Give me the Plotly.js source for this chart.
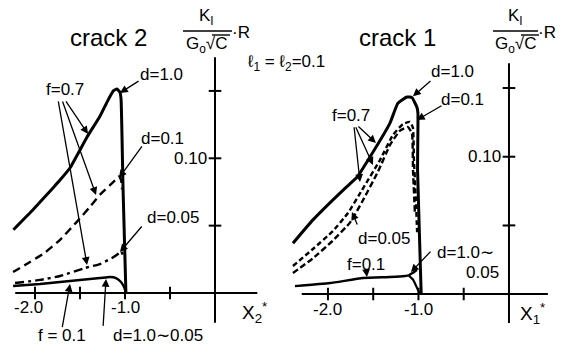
<!DOCTYPE html>
<html>
<head>
<meta charset="utf-8">
<script src="https://cdn.plot.ly/plotly-3.0.1.min.js"></script>
<style>
  html, body { margin: 0; padding: 0; background: #fff; }
  #chart { width: 562px; height: 345px; }
</style>
</head>
<body>
<div id="chart"></div>
<script>
// ---- crack 2 (left panel): normalised stress intensity K_I/(G0*sqrt(C))*R vs X2* ----
const crack2_f07_d10_x  = [-2.24, -2.02, -1.80, -1.72, -1.61, -1.42, -1.28, -1.19, -1.13, -1.09, -1.056, -1.044, -1.022, -0.99];
const crack2_f07_d10_y  = [0.047, 0.062, 0.078, 0.084, 0.093, 0.116, 0.131, 0.143, 0.150, 0.1515, 0.149, 0.144, 0.078, 0.0];
const crack2_f07_d01_x  = [-2.244, -2.056, -1.889, -1.722, -1.533, -1.389, -1.278, -1.167, -1.089, -1.067, -1.044, -1.033];
const crack2_f07_d01_y  = [0.0156, 0.023, 0.030, 0.0395, 0.053, 0.064, 0.073, 0.080, 0.085, 0.0866, 0.084, 0.077];
const crack2_f07_d005_x = [-2.222, -1.944, -1.722, -1.444, -1.278, -1.144, -1.078, -1.044, -1.022];
const crack2_f07_d005_y = [0.0074, 0.0097, 0.0126, 0.0186, 0.0215, 0.026, 0.029, 0.031, 0.028];
const crack2_f01_x      = [-2.244, -1.944, -1.611, -1.278, -1.167, -1.10, -1.044, -1.011, -0.989];
const crack2_f01_y      = [0.0052, 0.0067, 0.0089, 0.0111, 0.0119, 0.0111, 0.0082, 0.0045, 0.0];

// ---- crack 1 (right panel): same quantity vs X1* ----
const crack1_f07_d10_x  = [-2.387, -2.166, -1.812, -1.68, -1.536, -1.315, -1.227, -1.127, -1.072, -1.017, -1.006, -1.01, -0.97];
const crack1_f07_d10_y  = [0.037, 0.054, 0.077, 0.085, 0.0998, 0.1245, 0.139, 0.1435, 0.143, 0.136, 0.132, 0.090, 0.0];
const crack1_f07_d01_x  = [-2.387, -2.166, -1.945, -1.779, -1.624, -1.425, -1.282, -1.171, -1.094, -1.061, -1.050, -1.028, -1.015];
const crack1_f07_d01_y  = [0.0204, 0.0328, 0.0459, 0.059, 0.0757, 0.0976, 0.1158, 0.1238, 0.1253, 0.121, 0.0976, 0.068, 0.045];
const crack1_f07_d005_x = [-2.387, -2.166, -1.945, -1.757, -1.624, -1.448, -1.315, -1.204, -1.116, -1.072, -1.06, -1.04];
const crack1_f07_d005_y = [0.0153, 0.026, 0.039, 0.052, 0.067, 0.089, 0.1085, 0.119, 0.1216, 0.117, 0.09, 0.06];
const crack1_f01_x      = [-2.365, -1.978, -1.613, -1.315, -1.149, -1.11];
const crack1_f01_y      = [0.0058, 0.008, 0.0117, 0.0124, 0.0131, 0.0136];
const crack1_f01_upper_x = [-1.11, -1.06, -1.017];
const crack1_f01_upper_y = [0.0136, 0.0155, 0.0175];
const crack1_f01_lower_x = [-1.11, -1.06, -1.03, -0.985];
const crack1_f01_lower_y = [0.0136, 0.0105, 0.0065, 0.0];

// axis ticks and labels
const xTickVals   = [-2.0, -1.5, -1.0, -0.5];
const yTickVals   = [0.05, 0.10, 0.15];
const xTickLabels = [[-2.0, '-2.0'], [-1.0, '-1.0']];
const yTickLabels = [[0.10, '0.10']];

const FONT = 'Liberation Sans, Arial, sans-serif';
const INK = '#000';

function curve(x, y, xa, ya, width, dash) {
  return {
    x: x, y: y, xaxis: xa, yaxis: ya, type: 'scatter', mode: 'lines',
    line: {color: INK, width: width, dash: dash || 'solid', shape: 'spline', smoothing: 0.4},
    hoverinfo: 'skip', showlegend: false
  };
}
function ticks(xa, ya) {
  return [
    {x: xTickVals, y: xTickVals.map(() => 0), xaxis: xa, yaxis: ya, type: 'scatter', mode: 'markers',
     marker: {symbol: 'line-ns', size: 9, line: {color: INK, width: 2}}, hoverinfo: 'skip', showlegend: false},
    {x: yTickVals.map(() => 0), y: yTickVals, xaxis: xa, yaxis: ya, type: 'scatter', mode: 'markers',
     marker: {symbol: 'line-ew', size: 9, line: {color: INK, width: 2}}, hoverinfo: 'skip', showlegend: false}
  ];
}

const traces = [
  curve(crack2_f07_d10_x, crack2_f07_d10_y, 'x', 'y', 3),
  curve(crack2_f07_d01_x, crack2_f07_d01_y, 'x', 'y', 2.4, '8px,5px'),
  curve(crack2_f07_d005_x, crack2_f07_d005_y, 'x', 'y', 2.4, '9px,4px,3px,4px'),
  curve(crack2_f01_x, crack2_f01_y, 'x', 'y', 2.4),
  ...ticks('x', 'y'),
  curve(crack1_f07_d10_x, crack1_f07_d10_y, 'x2', 'y2', 3),
  curve(crack1_f07_d01_x, crack1_f07_d01_y, 'x2', 'y2', 2.4, '5px,3px'),
  curve(crack1_f07_d005_x, crack1_f07_d005_y, 'x2', 'y2', 2.4, '6px,3px'),
  curve(crack1_f01_x, crack1_f01_y, 'x2', 'y2', 2.4),
  curve(crack1_f01_upper_x, crack1_f01_upper_y, 'x2', 'y2', 2.2),
  curve(crack1_f01_lower_x, crack1_f01_lower_y, 'x2', 'y2', 2.2),
  ...ticks('x2', 'y2')
];

// coordinate axes drawn through the origin
const shapes = [
  {type: 'line', xref: 'x', yref: 'y', x0: -2.22, x1: 0.47, y0: 0, y1: 0, line: {color: INK, width: 2}},
  {type: 'line', xref: 'x', yref: 'y', x0: 0, x1: 0, y0: -0.022, y1: 0.175, line: {color: INK, width: 2}},
  {type: 'line', xref: 'x2', yref: 'y2', x0: -2.29, x1: 0.43, y0: 0, y1: 0, line: {color: INK, width: 2}},
  {type: 'line', xref: 'x2', yref: 'y2', x0: 0, x1: 0, y0: -0.021, y1: 0.168, line: {color: INK, width: 2}}
];

// pixel helpers for the axis-title fractions
const W = 562, H = 345;
const px = v => v / W, py = v => 1 - v / H;
function ptext(x, y, text, xa, ya, size) {
  return {xref: 'paper', yref: 'paper', x: px(x), y: py(y), text: text, showarrow: false,
          xanchor: xa || 'center', yanchor: ya || 'middle', font: {size: size || 17}};
}
function fraction(cx, barL, barR, rx, ovL, ovR) {
  shapes.push({type: 'line', xref: 'paper', yref: 'paper', x0: px(barL), x1: px(barR), y0: py(31), y1: py(31), line: {color: INK, width: 1.6}});
  shapes.push({type: 'line', xref: 'paper', yref: 'paper', x0: px(ovL), x1: px(ovR), y0: py(35), y1: py(35), line: {color: INK, width: 1.4}});
  return [
    ptext(cx, 30, 'K<sub>I</sub>', 'center', 'bottom'),
    ptext(cx, 32, 'G<sub>o</sub>√C', 'center', 'top'),
    ptext(rx, 32, '·R')
  ];
}

function label(xr, yr, x, y, text, size) {
  return {xref: xr, yref: yr, x: x, y: y, text: text, showarrow: false,
          xanchor: 'center', yanchor: 'middle', font: {size: size || 17}};
}
function arrow(xr, yr, hx, hy, tx, ty) {
  return {xref: xr, yref: yr, axref: xr, ayref: yr, x: hx, y: hy, ax: tx, ay: ty, text: '',
          showarrow: true, arrowhead: 2, arrowsize: 1.2, arrowwidth: 1.3, arrowcolor: INK, standoff: 0};
}

const annotations = [
  // crack 2
  label('x', 'y', -1.189, 0.190, 'crack 2', 24),
  label('x', 'y', -1.667, 0.1514, 'f=0.7'),
  label('x', 'y', -0.589, 0.162, 'd=1.0'),
  label('x', 'y', -0.578, 0.115, 'd=0.1'),
  label('x', 'y', -0.467, 0.0564, 'd=0.05'),
  label('x', 'y', -1.70, -0.0315, 'f = 0.1'),
  label('x', 'y', -0.633, -0.0315, 'd=1.0∼0.05'),
  label('x', 'y', 0.444, -0.0148, 'X<sub>2</sub><sup>*</sup>', 19),
  arrow('x', 'y', -1.411, 0.118, -1.667, 0.1433),
  arrow('x', 'y', -1.322, 0.0728, -1.70, 0.1433),
  arrow('x', 'y', -1.422, 0.0208, -1.744, 0.1433),
  arrow('x', 'y', -1.056, 0.1485, -0.833, 0.158),
  arrow('x', 'y', -1.067, 0.0854, -0.80, 0.110),
  arrow('x', 'y', -1.056, 0.0304, -0.80, 0.0505),
  arrow('x', 'y', -1.611, 0.0067, -1.70, -0.0265),
  arrow('x', 'y', -1.211, 0.0104, -1.244, -0.0255),
  // crack 1
  label('x2', 'y2', -1.227, 0.187, 'crack 1', 24),
  label('x2', 'y2', -1.746, 0.130, 'f=0.7'),
  label('x2', 'y2', -0.619, 0.1617, 'd=1.0'),
  label('x2', 'y2', -0.519, 0.1413, 'd=0.1'),
  label('x2', 'y2', -1.381, 0.0408, 'd=0.05'),
  label('x2', 'y2', -1.58, 0.0215, 'f=0.1'),
  label('x2', 'y2', -0.475, 0.0306, 'd=1.0∼'),
  label('x2', 'y2', -0.287, 0.016, '0.05'),
  label('x2', 'y2', 0.265, -0.0138, 'X<sub>1</sub><sup>*</sup>', 19),
  arrow('x2', 'y2', -1.47, 0.110, -1.680, 0.123),
  arrow('x2', 'y2', -1.503, 0.094, -1.700, 0.1225),
  arrow('x2', 'y2', -1.646, 0.0816, -1.713, 0.1225),
  arrow('x2', 'y2', -1.061, 0.144, -0.851, 0.156),
  arrow('x2', 'y2', -1.017, 0.1267, -0.729, 0.1377),
  arrow('x2', 'y2', -1.735, 0.0597, -1.669, 0.0495),
  arrow('x2', 'y2', -1.569, 0.0124, -1.58, 0.019),
  arrow('x2', 'y2', -1.083, 0.016, -0.851, 0.032),
  // shared parameter note
  ptext(286, 63, 'ℓ<sub>1</sub> = ℓ<sub>2</sub>=0.1'),
  ...fraction(206, 183, 232, 241, 212, 230),
  ...fraction(515, 493, 538, 547, 521, 539)
];

// tick labels along the axes
['x', 'x2'].forEach((xr, i) => {
  const yr = i === 0 ? 'y' : 'y2';
  xTickLabels.forEach(([v, t]) => annotations.push(label(xr, yr, v + (i === 0 && v === -2.0 ? -0.07 : 0), -0.011, t)));
  yTickLabels.forEach(([v, t]) => annotations.push(label(xr, yr, -0.27, v, t)));
});

const hidden = {visible: false, fixedrange: true};
const layout = {
  width: W, height: H,
  margin: {l: 0, r: 0, t: 0, b: 0},
  paper_bgcolor: '#fff', plot_bgcolor: '#fff',
  font: {family: FONT, color: INK, size: 17},
  showlegend: false,
  xaxis:  Object.assign({domain: [0, 0.47], range: [-2.389, 0.546]}, hidden),
  yaxis:  Object.assign({domain: [0, 1], range: [-0.0386, 0.2175]}, hidden),
  xaxis2: Object.assign({domain: [0.49, 1], range: [-2.581, 0.586], anchor: 'y2'}, hidden),
  yaxis2: Object.assign({domain: [0, 1], range: [-0.0371, 0.2141], anchor: 'x2'}, hidden),
  shapes: shapes,
  annotations: annotations
};

Plotly.newPlot('chart', traces, layout, {staticPlot: true, displayModeBar: false});
</script>
</body>
</html>
